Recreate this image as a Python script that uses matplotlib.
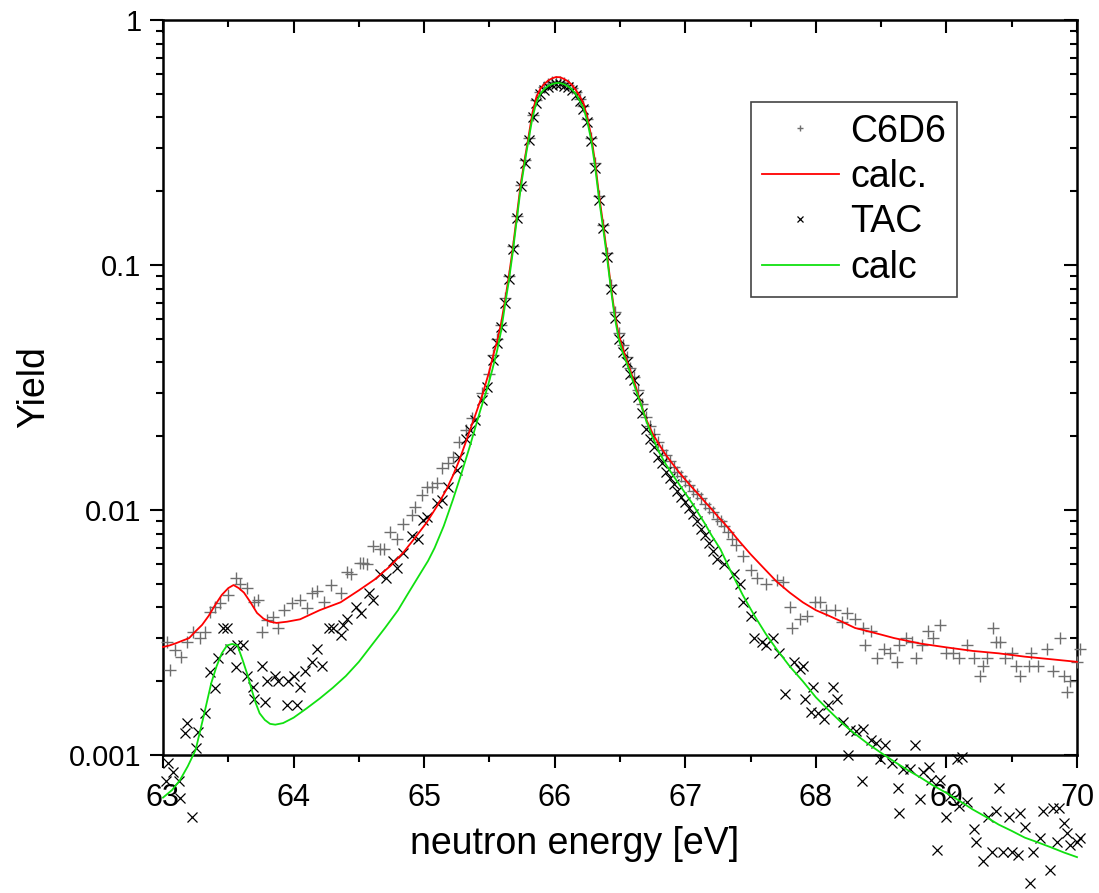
import matplotlib
matplotlib.use("Agg")
import matplotlib.pyplot as plt
from matplotlib.ticker import FixedLocator, NullFormatter, FuncFormatter, LogLocator, MultipleLocator

plt.rcParams['font.family'] = ['Liberation Sans', 'DejaVu Sans']

# ---------------- data ----------------
c6d6_energy = [
    63.03, 63.05, 63.09, 63.14, 63.18, 63.23, 63.28, 63.32, 63.36, 63.40,
    63.44, 63.50, 63.56, 63.59, 63.64, 63.70, 63.73, 63.76, 63.80, 63.84,
    63.88, 63.93, 63.99, 64.05, 64.10, 64.14, 64.18, 64.23, 64.29, 64.36,
    64.41, 64.44, 64.51, 64.53, 64.56, 64.61, 64.66, 64.69, 64.74, 64.79,
    64.84, 64.91, 64.93, 64.98, 65.02, 65.06, 65.10, 65.14, 65.18, 65.22,
    65.27, 65.32, 65.37, 65.44,
    65.50, 65.53, 65.56, 65.59, 65.62, 65.65, 65.68, 65.71, 65.74, 65.77,
    65.80, 65.83, 65.86, 65.89, 65.92, 65.95, 65.98, 66.01, 66.04, 66.07,
    66.10, 66.13, 66.16, 66.19, 66.22, 66.25, 66.28, 66.31, 66.34, 66.37,
    66.40, 66.43, 66.46, 66.49, 66.52, 66.55, 66.58,
    66.61, 66.64, 66.67, 66.70, 66.73, 66.76, 66.79, 66.82, 66.85, 66.88,
    66.91, 66.94, 66.97, 67.00, 67.03, 67.06, 67.09, 67.12, 67.15, 67.18,
    67.21, 67.24, 67.27, 67.30, 67.33, 67.36, 67.39,
    67.44, 67.50, 67.55, 67.62, 67.70, 67.75, 67.80, 67.82, 67.88, 67.93,
    67.99, 68.03, 68.08, 68.15, 68.20, 68.24, 68.30, 68.36, 68.38, 68.42,
    68.47, 68.52, 68.57, 68.62, 68.64, 68.69, 68.74, 68.77, 68.81, 68.86,
    68.90, 68.95, 69.00, 69.05, 69.10, 69.16, 69.21, 69.26, 69.28, 69.31,
    69.36, 69.38, 69.41, 69.45, 69.50, 69.53, 69.56, 69.63, 69.65, 69.70,
    69.77, 69.82, 69.87, 69.90, 69.92, 69.95, 70.00, 70.02,
]
c6d6_yield = [
    0.0029, 0.00222, 0.00268, 0.00252, 0.0029, 0.00318, 0.0030, 0.00319, 0.00385, 0.00403,
    0.00417, 0.0045, 0.00526, 0.0050, 0.0048, 0.00423, 0.0043, 0.00318, 0.00356, 0.00367,
    0.0033, 0.0039, 0.00417, 0.0043, 0.00398, 0.00458, 0.00465, 0.00423, 0.00494, 0.00458,
    0.0056, 0.0055, 0.0061, 0.0061, 0.0060, 0.0071, 0.0069, 0.0069, 0.0081, 0.0076,
    0.0088, 0.0095, 0.0103, 0.0115, 0.0124, 0.0124, 0.0129, 0.0148, 0.0155, 0.0164,
    0.0190, 0.0212, 0.0238, 0.0300,
    0.036, 0.043, 0.050, 0.057, 0.073, 0.090, 0.120, 0.158, 0.212, 0.268,
    0.33, 0.41, 0.47, 0.51, 0.535, 0.548, 0.556, 0.560, 0.558, 0.552,
    0.545, 0.530, 0.510, 0.478, 0.445, 0.395, 0.330, 0.260, 0.192, 0.146,
    0.112, 0.083, 0.064, 0.053, 0.047, 0.042, 0.038,
    0.035, 0.031, 0.027, 0.024, 0.022, 0.0205, 0.019, 0.0175, 0.0168, 0.0158,
    0.0150, 0.0143, 0.0138, 0.0131, 0.0126, 0.0120, 0.0116, 0.0112, 0.0106, 0.0102,
    0.0098, 0.0092, 0.0090, 0.0086, 0.0081, 0.0076, 0.0072,
    0.0065, 0.0057, 0.0053, 0.0050, 0.0052, 0.0051, 0.0040, 0.0033, 0.0036, 0.0037,
    0.0042, 0.0042, 0.0039, 0.0039, 0.0035, 0.0038, 0.0036, 0.0033, 0.0028, 0.0032,
    0.0025, 0.0027, 0.0026, 0.0024, 0.0028, 0.0030, 0.0029, 0.0025, 0.0028, 0.0032,
    0.0030, 0.0034, 0.0026, 0.0026, 0.0025, 0.0028, 0.0025, 0.0021, 0.0023, 0.0025,
    0.0033, 0.0029, 0.0029, 0.0025, 0.0026, 0.0023, 0.0021, 0.0023, 0.0026, 0.0023,
    0.0027, 0.0022, 0.0030, 0.0021, 0.0018, 0.0020, 0.0024, 0.0027,
]

tac_energy = [
    63.02, 63.04, 63.08, 63.12, 63.13, 63.17, 63.18, 63.22, 63.25, 63.27,
    63.32, 63.36, 63.40, 63.42, 63.46, 63.49, 63.51, 63.56, 63.57, 63.61,
    63.64, 63.69, 63.70, 63.76, 63.78, 63.80, 63.86, 63.88, 63.95, 63.96,
    64.00, 64.03, 64.05, 64.09, 64.14, 64.18, 64.22, 64.27, 64.30, 64.36,
    64.38, 64.41, 64.48, 64.52, 64.58, 64.61, 64.66, 64.71, 64.76, 64.79,
    64.84, 64.91, 64.95, 64.99, 65.02, 65.10, 65.14, 65.18, 65.25, 65.27,
    65.32, 65.35, 65.39, 65.44, 65.48,
    65.53, 65.56, 65.59, 65.62, 65.65, 65.68, 65.71, 65.74, 65.77,
    65.80, 65.83, 65.86, 65.89, 65.92, 65.95, 65.98, 66.01, 66.04, 66.07,
    66.10, 66.13, 66.16, 66.19, 66.22, 66.25, 66.28, 66.31, 66.34, 66.37,
    66.40, 66.43, 66.46, 66.49, 66.52, 66.55, 66.58,
    66.61, 66.64, 66.67, 66.70, 66.73, 66.76, 66.79, 66.82, 66.85, 66.88,
    66.91, 66.94, 66.97, 67.00, 67.03, 67.06, 67.09, 67.12, 67.15, 67.18,
    67.21,
    67.24, 67.30, 67.37, 67.42, 67.44, 67.50, 67.53, 67.59, 67.62, 67.67,
    67.72, 67.76, 67.83, 67.88, 67.90, 67.92, 67.96, 67.98, 68.02, 68.06,
    68.09, 68.13, 68.16, 68.21, 68.25, 68.26, 68.31, 68.35, 68.36, 68.42,
    68.46, 68.49, 68.53, 68.58, 68.63, 68.64, 68.67, 68.72, 68.76, 68.80,
    68.82, 68.87, 68.88, 68.93, 68.95, 69.00, 69.03, 69.08, 69.10, 69.12,
    69.16, 69.21, 69.23, 69.28, 69.32, 69.35, 69.38, 69.40, 69.43, 69.48,
    69.50, 69.55, 69.56, 69.60, 69.64, 69.66, 69.72, 69.74, 69.79, 69.82,
    69.85, 69.86, 69.90, 69.92, 69.95, 70.00, 70.02,
]
tac_yield = [
    0.00078, 0.00093, 0.00085, 0.00078, 0.00067, 0.00123, 0.00135, 0.00056, 0.00107, 0.00124,
    0.00148, 0.00219, 0.00188, 0.0025, 0.0033, 0.0033, 0.0027, 0.00228, 0.0028, 0.0028,
    0.0021, 0.0019, 0.0017, 0.0023, 0.00164, 0.0020, 0.0021, 0.0020, 0.0016, 0.0020,
    0.0021, 0.0016, 0.0019, 0.0022, 0.0024, 0.0027, 0.0023, 0.0033, 0.0033, 0.0031,
    0.0034, 0.0036, 0.0040, 0.0038, 0.0046, 0.0043, 0.0055, 0.0053, 0.0062, 0.0058,
    0.0067, 0.0078, 0.0076, 0.0091, 0.0094, 0.0107, 0.0110, 0.0124, 0.0145, 0.0164,
    0.0194, 0.0212, 0.0234, 0.0280, 0.0318,
    0.041, 0.048, 0.056, 0.070, 0.088, 0.116, 0.155, 0.210, 0.262,
    0.325, 0.40, 0.46, 0.50, 0.52, 0.535, 0.542, 0.548, 0.546, 0.540,
    0.532, 0.518, 0.495, 0.465, 0.435, 0.385, 0.320, 0.250, 0.185, 0.142,
    0.108, 0.080, 0.061, 0.050, 0.044, 0.040, 0.036,
    0.034, 0.029, 0.025, 0.0215, 0.0195, 0.018, 0.0165, 0.0155, 0.0143, 0.0135,
    0.0128, 0.0120, 0.0113, 0.0108, 0.0102, 0.0096, 0.0090, 0.0084, 0.0079, 0.0073,
    0.0068,
    0.0063, 0.0060, 0.0055, 0.0050, 0.0042, 0.0037, 0.0030, 0.0029, 0.0028, 0.0030,
    0.0026, 0.00178, 0.0024, 0.00224, 0.0023, 0.0017, 0.0015, 0.0019, 0.00148, 0.0014,
    0.0016, 0.0019, 0.0017, 0.00137, 0.0010, 0.00126, 0.00125, 0.00078, 0.00128, 0.00115,
    0.00112, 0.00096, 0.0011, 0.00093, 0.00073, 0.00058, 0.00088, 0.00088, 0.0011, 0.00066,
    0.00085, 0.00089, 0.00079, 0.00041, 0.00079, 0.00056, 0.00068, 0.00096, 0.00062, 0.00098,
    0.00064, 0.00050, 0.00044, 0.00037, 0.00056, 0.00040, 0.00059, 0.00073, 0.00040, 0.00056,
    0.00040, 0.00039, 0.00058, 0.00051, 0.00030, 0.00040, 0.00046, 0.00059, 0.00034, 0.00061,
    0.00044, 0.00061, 0.00053, 0.00048, 0.00043, 0.00044, 0.00046,
]

calc_c6d6_energy = [
    63.00, 63.05, 63.10, 63.15, 63.20, 63.25, 63.30, 63.35, 63.40, 63.45,
    63.50, 63.54, 63.58, 63.62, 63.67, 63.72, 63.77, 63.82, 63.87, 63.95,
    64.05, 64.20, 64.36, 64.50, 64.62, 64.74, 64.84, 64.93, 65.02, 65.10,
    65.17, 65.22, 65.27, 65.32, 65.37, 65.41, 65.45,
    65.50, 65.53, 65.56, 65.59, 65.62, 65.65, 65.68, 65.71,
    65.74, 65.77, 65.80, 65.83, 65.86, 65.89, 65.92, 65.95, 65.98, 66.01,
    66.04, 66.07, 66.10, 66.13, 66.16, 66.19, 66.22, 66.25, 66.28, 66.31,
    66.34, 66.37, 66.40, 66.43, 66.46, 66.49, 66.52, 66.55, 66.58, 66.62,
    66.66, 66.70, 66.75, 66.80, 66.85, 66.90, 66.95, 67.00, 67.05, 67.10,
    67.15, 67.20, 67.25, 67.30, 67.35, 67.40, 67.50, 67.60, 67.70, 67.80,
    67.90, 68.00, 68.10, 68.20, 68.30, 68.40, 68.50, 68.60, 68.80, 69.00,
    69.20, 69.40, 69.60, 69.80, 70.00,
]
calc_c6d6_yield = [
    0.00276, 0.0028, 0.00286, 0.00293, 0.0030, 0.0032, 0.0034, 0.0037, 0.0041, 0.0045,
    0.0048, 0.00494, 0.0048, 0.0046, 0.0042, 0.0038, 0.0036, 0.0035, 0.00346, 0.0035,
    0.00358, 0.0039, 0.0042, 0.0047, 0.0052, 0.0059, 0.0067, 0.0077, 0.0089, 0.0104,
    0.0121, 0.0138, 0.0160, 0.0190, 0.0226, 0.0260, 0.0300,
    0.037, 0.043, 0.049, 0.058, 0.072, 0.091, 0.118, 0.160,
    0.215, 0.270, 0.335, 0.420, 0.485, 0.525, 0.548, 0.566, 0.578, 0.585,
    0.584, 0.575, 0.563, 0.545, 0.520, 0.490, 0.458, 0.400, 0.335, 0.261,
    0.192, 0.148, 0.112, 0.082, 0.063, 0.052, 0.046, 0.041, 0.037, 0.032,
    0.027, 0.0235, 0.0205, 0.0185, 0.0168, 0.0155, 0.0143, 0.0133, 0.0124, 0.0116,
    0.0108, 0.0101, 0.0094, 0.0088, 0.0082, 0.0076, 0.0066, 0.0058, 0.0051, 0.0046,
    0.0042, 0.0039, 0.0037, 0.0035, 0.0033, 0.0032, 0.0031, 0.0030, 0.00285, 0.00275,
    0.00266, 0.0026, 0.00252, 0.00246, 0.0024,
]

calc_tac_energy = [
    63.00, 63.07, 63.13, 63.19, 63.25, 63.31, 63.37, 63.41, 63.45, 63.49,
    63.53, 63.57, 63.61, 63.65, 63.68, 63.71, 63.74, 63.78, 63.82, 63.86,
    63.92, 64.00, 64.10, 64.20, 64.30, 64.40, 64.50, 64.61, 64.70, 64.80,
    64.87, 64.97, 65.03, 65.08, 65.15, 65.22, 65.28, 65.35, 65.43, 65.48,
    65.52, 65.56, 65.59, 65.62, 65.65, 65.68,
    65.71, 65.74, 65.77, 65.80, 65.83, 65.86, 65.89, 65.92, 65.95, 65.98,
    66.01, 66.04, 66.07, 66.10, 66.13, 66.16, 66.19, 66.22, 66.25, 66.28,
    66.31, 66.34, 66.37, 66.40, 66.43, 66.46, 66.49, 66.52, 66.55, 66.58,
    66.62, 66.66, 66.70, 66.75, 66.80, 66.85, 66.90, 66.95, 67.00, 67.05,
    67.10, 67.15, 67.20, 67.27, 67.35, 67.44, 67.53, 67.62, 67.70, 67.80,
    67.90, 68.00, 68.10, 68.20, 68.30, 68.40, 68.50, 68.60, 68.70, 68.80,
    68.90, 69.00, 69.10, 69.20, 69.30, 69.40, 69.50, 69.60, 69.70, 69.80,
    69.90, 70.00,
]
calc_tac_yield = [
    0.00067, 0.00072, 0.00079, 0.00090, 0.00105, 0.00143, 0.00197, 0.0023, 0.0026, 0.0028,
    0.00284, 0.0028, 0.00244, 0.0021, 0.00184, 0.00163, 0.00148, 0.00139, 0.00134, 0.00133,
    0.00135, 0.00142, 0.00155, 0.0017, 0.00188, 0.0021, 0.0024, 0.00286, 0.0033, 0.0039,
    0.0045, 0.0055, 0.0062, 0.0070, 0.0086, 0.0110, 0.0138, 0.0182, 0.0255, 0.0310,
    0.037, 0.045, 0.054, 0.069, 0.087, 0.114,
    0.154, 0.207, 0.262, 0.325, 0.400, 0.462, 0.500, 0.522, 0.538, 0.548,
    0.553, 0.553, 0.547, 0.537, 0.522, 0.500, 0.470, 0.438, 0.385, 0.322,
    0.250, 0.185, 0.142, 0.108, 0.080, 0.061, 0.050, 0.044, 0.040, 0.036,
    0.031, 0.027, 0.0232, 0.0198, 0.0172, 0.0154, 0.0140, 0.0128, 0.0117, 0.0107,
    0.0097, 0.0088, 0.0079, 0.0069, 0.0056, 0.0045, 0.0037, 0.0031, 0.0027, 0.0023,
    0.0020, 0.00172, 0.00152, 0.00135, 0.00122, 0.00111, 0.00102, 0.00094, 0.00087, 0.00081,
    0.00075, 0.00070, 0.00065, 0.00060, 0.00056, 0.00052, 0.00049, 0.00046, 0.00044, 0.00042,
    0.00040, 0.000383,
]

x_ticks = [63, 64, 65, 66, 67, 68, 69, 70]
y_ticks = [0.001, 0.01, 0.1, 1]
y_tick_labels = ["0.001", "0.01", "0.1", "1"]
legend_labels = ["C6D6", "calc.", "TAC", "calc"]

# ---------------- figure ----------------
fig = plt.figure(figsize=(10.99, 8.93), dpi=100)
ax = fig.add_axes([163 / 1099, 1 - 755 / 893, 914 / 1099, 735 / 893])

h1, = ax.plot(c6d6_energy, c6d6_yield, linestyle='none', marker='+', markersize=8,
              markeredgewidth=1.0, color='#6e6e6e', label=legend_labels[0], zorder=3, clip_on=False)
h2, = ax.plot(calc_c6d6_energy, calc_c6d6_yield, color='#ff0000', lw=1.3,
              label=legend_labels[1], zorder=4, clip_on=False)
h3, = ax.plot(tac_energy, tac_yield, linestyle='none', marker='x', markersize=7.5,
              markeredgewidth=0.9, color='black', label=legend_labels[2], zorder=3, clip_on=False)
h4, = ax.plot(calc_tac_energy, calc_tac_yield, color='#10e010', lw=1.3,
              label=legend_labels[3], zorder=4, clip_on=False)

ax.set_yscale('log')
ax.set_xlim(63, 70)
ax.set_ylim(0.001, 1)

ax.xaxis.set_major_locator(FixedLocator(x_ticks))
ax.xaxis.set_minor_locator(MultipleLocator(0.5))
ax.yaxis.set_major_locator(FixedLocator(y_ticks))
ax.yaxis.set_major_formatter(FuncFormatter(
    lambda v, p: y_tick_labels[y_ticks.index(min(y_ticks, key=lambda t: abs(t - v)))]))
ax.yaxis.set_minor_locator(LogLocator(base=10, subs=range(2, 10)))
ax.yaxis.set_minor_formatter(NullFormatter())

for s in ax.spines.values():
    s.set_linewidth(1.8)

ax.tick_params(which='major', direction='out', length=9.5, width=1.5)
ax.tick_params(which='minor', direction='out', length=5, width=1.5)
ax.tick_params(axis='x', which='major', pad=11, labelsize=22)
ax.tick_params(axis='y', which='major', pad=6, labelsize=21)
ax.tick_params(top=False, right=False, which='both')

# mirrored inward ticks on top/right
axr = ax.twinx()
axr.set_yscale('log')
axr.set_ylim(0.001, 1)
axr.yaxis.set_major_locator(FixedLocator(y_ticks))
axr.yaxis.set_minor_locator(LogLocator(base=10, subs=range(2, 10)))
axr.yaxis.set_major_formatter(NullFormatter())
axr.yaxis.set_minor_formatter(NullFormatter())
axr.tick_params(which='major', direction='in', length=9.5, width=1.5)
axr.tick_params(which='minor', direction='in', length=5, width=1.5)
for s in axr.spines.values():
    s.set_visible(False)

axt = ax.twiny()
axt.set_xlim(63, 70)
axt.xaxis.set_major_locator(FixedLocator(x_ticks))
axt.xaxis.set_minor_locator(MultipleLocator(0.5))
axt.xaxis.set_major_formatter(NullFormatter())
axt.tick_params(which='major', direction='in', length=9.5, width=1.5)
axt.tick_params(which='minor', direction='in', length=5, width=1.5)
for s in axt.spines.values():
    s.set_visible(False)

ax.set_zorder(axt.get_zorder() + 1)
ax.patch.set_visible(False)

ax.set_xlabel("neutron energy [eV]", fontsize=27)
ax.xaxis.set_label_coords((575 - 163) / 914, (755 - 826) / 735)
ax.set_ylabel("Yield", fontsize=27, labelpad=12)

leg = ax.legend(handles=[h1, h2, h3, h4], loc='upper left', bbox_to_anchor=(0.643, 0.888),
                borderaxespad=0, fontsize=27, frameon=True, fancybox=False, edgecolor='#444444',
                framealpha=1, handlelength=2.05, handletextpad=0.3, labelspacing=0.25,
                borderpad=0.3, markerscale=0.55)
leg.get_frame().set_linewidth(1.2)
leg.set_zorder(10)

fig.savefig("out.png", dpi=100)
